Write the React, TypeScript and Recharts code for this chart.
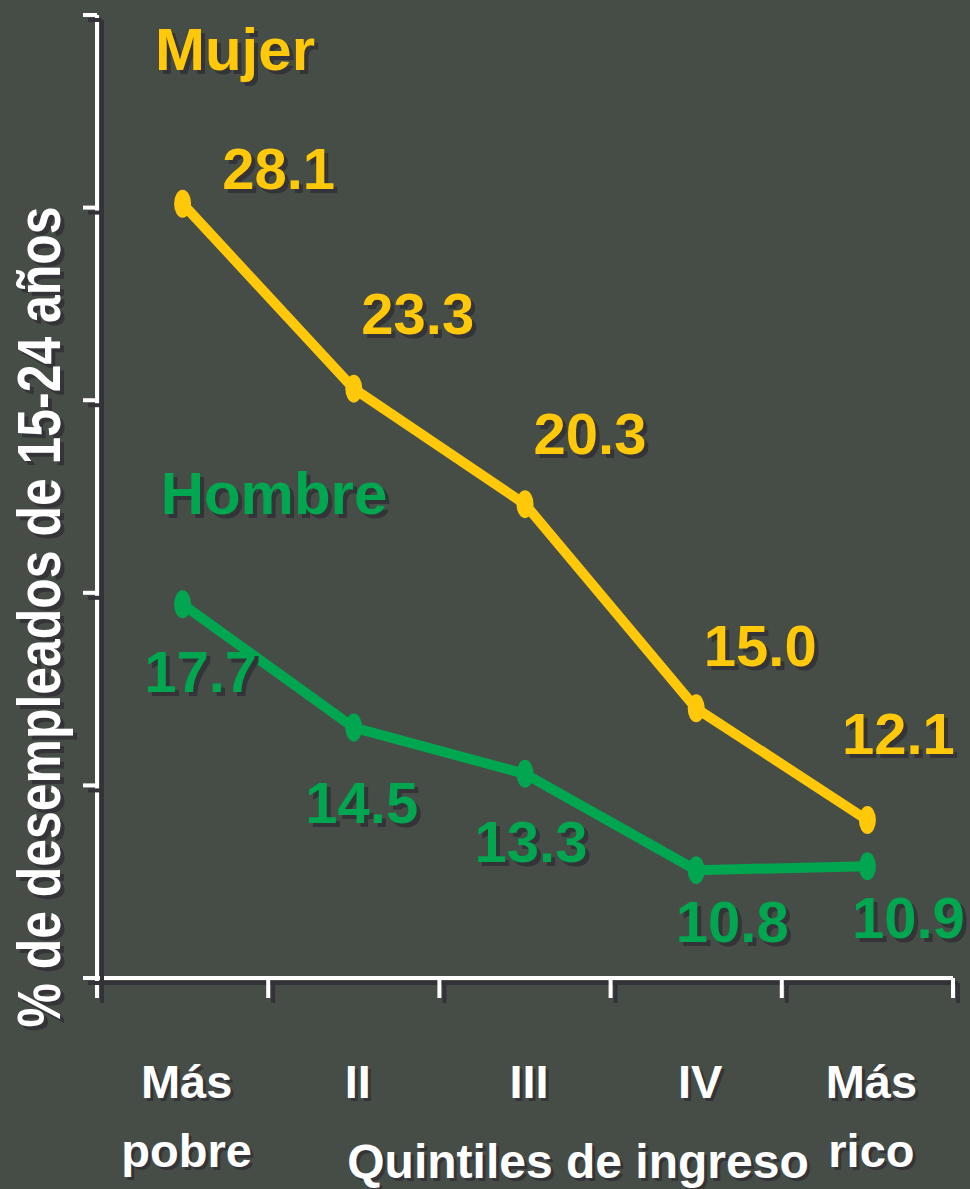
import { LineChart, Line, XAxis, YAxis, LabelList } from "recharts";

const categories = ["Más pobre", "II", "III", "IV", "Más rico"];
const mujer = [28.1, 23.3, 20.3, 15.0, 12.1];
const hombre = [17.7, 14.5, 13.3, 10.8, 10.9];
const yTicks = [8, 13, 18, 23, 28, 33];
const bandTicks = [0, 1, 2, 3, 4, 5];

// label nudges relative to each point (dx, baseline dy)
const mujerNudge = [[96, -15], [64, -55], [65, -50], [64, -42], [31, -66]];
const hombreNudge = [[18, 88], [8, 95], [6, 88], [36, 72], [41, 72]];

const data = categories.map((name, i) => ({
  x: i + 0.5,
  name,
  mujer: mujer[i],
  hombre: hombre[i],
}));

const BG = "#454d46";
const SHADOW = "#333338";
const YELLOW = "#ffc90a";
const GREEN = "#00a650";
const FONT = "'Liberation Sans', Arial, sans-serif";

function ShadowText({
  x,
  y,
  fill,
  size,
  children,
  anchor = "middle",
  sx = 4,
  sy = 4,
  textLength,
}: {
  x: number;
  y: number;
  fill: string;
  size: number;
  children: any;
  anchor?: "middle" | "start" | "end";
  sx?: number;
  sy?: number;
  textLength?: number;
}) {
  const common: any = {
    fontFamily: FONT,
    fontWeight: 700,
    fontSize: size,
    textAnchor: anchor,
  };
  if (textLength) {
    common.textLength = textLength;
    common.lengthAdjust = "spacingAndGlyphs";
  }
  return (
    <g>
      <text x={x + sx} y={y + sy} fill={SHADOW} {...common}>
        {children}
      </text>
      <text x={x} y={y} fill={fill} {...common}>
        {children}
      </text>
    </g>
  );
}

function makeLabel(color: string, nudge: number[][]) {
  return (props: any) => {
    const { x, y, value, index } = props;
    const [dx, dy] = nudge[index] || [0, 0];
    return (
      <ShadowText key={index} x={x + dx} y={y + dy} fill={color} size={58}>
        {Number(value).toFixed(1)}
      </ShadowText>
    );
  };
}

function makeDot(color: string) {
  return (p: any) => (
    <ellipse key={p.index} cx={p.cx} cy={p.cy} rx={8.5} ry={14} fill={color} />
  );
}

function CategoryTick(props: any) {
  const { x, y, payload } = props;
  const idx = Math.floor(payload.value);
  const lines = (categories[idx] || "").split(" ");
  return (
    <g>
      {lines.map((ln, k) => (
        <ShadowText key={k} x={x + 4} y={y + 98 + k * 69} fill="#ffffff" size={47} sx={3} sy={3}>
          {ln}
        </ShadowText>
      ))}
    </g>
  );
}

const noTick = () => <g />;

const css = `
.recharts-cartesian-axis-line, .recharts-cartesian-axis-tick-line { filter: url(#axisShadow); }
`;

export default function App() {
  return (
    <div
      style={{
        position: "absolute",
        left: 0,
        top: 0,
        width: 970,
        height: 1189,
        background: BG,
        overflow: "hidden",
      }}
    >
      <style>{css}</style>
      <LineChart
        width={970}
        height={1189}
        data={data}
        margin={{ top: 15, right: 17, bottom: 0, left: 0 }}
      >
        <defs>
          <filter
            id="axisShadow"
            filterUnits="userSpaceOnUse"
            x="0"
            y="0"
            width="970"
            height="1189"
          >
            <feDropShadow dx="5" dy="5" stdDeviation="0" floodColor={SHADOW} floodOpacity="1" />
          </filter>
        </defs>
        <XAxis
          xAxisId="a"
          type="number"
          dataKey="x"
          domain={[0, 5]}
          ticks={bandTicks}
          tick={noTick}
          height={22}
          axisLine={{ stroke: "#ffffff", strokeWidth: 4 }}
          tickLine={{ stroke: "#ffffff", strokeWidth: 4 }}
          tickSize={20}
          interval={0}
          allowDataOverflow
        />
        <XAxis
          xAxisId="b"
          type="number"
          dataKey="x"
          domain={[0, 5]}
          ticks={data.map((d) => d.x)}
          tick={<CategoryTick />}
          height={189}
          axisLine={false}
          tickLine={false}
          tickSize={0}
          tickMargin={0}
          interval={0}
          allowDataOverflow
        />
        <YAxis
          type="number"
          domain={[8, 33]}
          ticks={yTicks}
          tick={noTick}
          width={97}
          axisLine={{ stroke: "#ffffff", strokeWidth: 4 }}
          tickLine={{ stroke: "#ffffff", strokeWidth: 4 }}
          tickSize={14}
          interval={0}
          allowDataOverflow
        />
        <Line
          xAxisId="a"
          type="linear"
          dataKey="mujer"
          stroke={YELLOW}
          strokeWidth={10}
          dot={makeDot(YELLOW)}
          activeDot={false}
          isAnimationActive={false}
        >
          <LabelList dataKey="mujer" content={makeLabel(YELLOW, mujerNudge)} />
        </Line>
        <Line
          xAxisId="a"
          type="linear"
          dataKey="hombre"
          stroke={GREEN}
          strokeWidth={10}
          dot={makeDot(GREEN)}
          activeDot={false}
          isAnimationActive={false}
        >
          <LabelList dataKey="hombre" content={makeLabel(GREEN, hombreNudge)} />
        </Line>
      </LineChart>
      <svg
        width={970}
        height={1189}
        style={{ position: "absolute", left: 0, top: 0, pointerEvents: "none" }}
      >
        <ShadowText x={235} y={70} fill={YELLOW} size={60}>
          Mujer
        </ShadowText>
        <ShadowText x={274} y={514} fill={GREEN} size={60}>
          Hombre
        </ShadowText>
        <g transform="rotate(-90, 60, 617)">
          <ShadowText x={60} y={617} fill="#ffffff" size={62} sx={-4} sy={4} textLength={821}>
            % de desempleados de 15-24 años
          </ShadowText>
        </g>
        <ShadowText x={578} y={1178} fill="#ffffff" size={48} sx={3} sy={3}>
          Quintiles de ingreso
        </ShadowText>
      </svg>
    </div>
  );
}
